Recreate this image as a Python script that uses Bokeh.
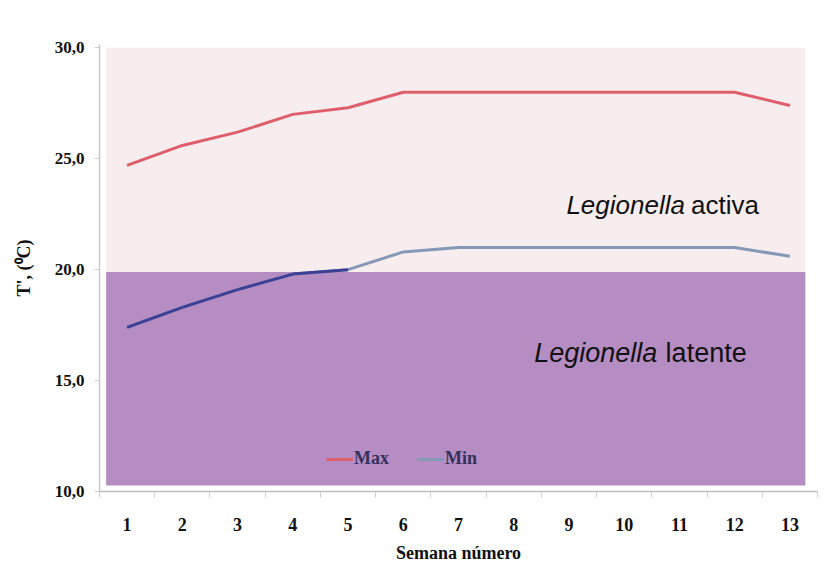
from bokeh.plotting import figure
from bokeh.models import (FixedTicker, BoxAnnotation, Label, Legend, LegendItem,
                          ColumnDataSource, Range1d)
from bokeh.embed import file_html
from bokeh.resources import INLINE

# ---- data ----
weeks = [1, 2, 3, 4, 5, 6, 7, 8, 9, 10, 11, 12, 13]
t_max = [24.7, 25.6, 26.2, 27.0, 27.3, 28.0, 28.0, 28.0, 28.0, 28.0, 28.0, 28.0, 27.4]
t_min = [17.4, 18.3, 19.1, 19.8, 20.0, 20.8, 21.0, 21.0, 21.0, 21.0, 21.0, 21.0, 20.6]
y_ticks = [10, 15, 20, 25, 30]
y_tick_labels = ["10,0", "15,0", "20,0", "25,0", "30,0"]
x_tick_labels = [str(w) for w in weeks]
threshold = 19.9  # limit between "latente" and "activa"

SERIF = "Liberation Serif"
SANS = "Liberation Sans"

p = figure(width=824, height=567, output_backend="svg", toolbar_location=None,
           x_range=Range1d(0.5, 13.5), y_range=Range1d(10, 30.15),
           min_border_left=99, min_border_right=7, min_border_top=44, min_border_bottom=76)
p.background_fill_color = "white"
p.border_fill_color = "white"
p.outline_line_color = None
p.xgrid.visible = False
p.ygrid.visible = False

# background bands
p.add_layout(BoxAnnotation(left=0.62, right=13.28, bottom=threshold, top=30.0,
                           fill_color="#f8edee", fill_alpha=1, line_color=None, level="underlay"))
p.add_layout(BoxAnnotation(left=0.62, right=13.28, bottom=10.27, top=threshold,
                           fill_color="#b68dc3", fill_alpha=1, line_color=None, level="underlay"))

# lines
r_max = p.line(weeks, t_max, line_color="#de5f6b", line_width=3)
r_min = p.line(weeks, t_min, line_color="#8598b6", line_width=3)
dark_idx = [i for i in range(len(weeks) - 1) if t_min[i] < threshold]
seg_dark = ColumnDataSource(dict(x0=[weeks[i] for i in dark_idx], y0=[t_min[i] for i in dark_idx],
                                 x1=[weeks[i + 1] for i in dark_idx], y1=[t_min[i + 1] for i in dark_idx]))
p.segment("x0", "y0", "x1", "y1", source=seg_dark, line_color="#3d3f95", line_width=3)

# texts
for xr, xl, yb, word, fs in [(11.10, 11.21, 22.9, "activa", "26px"),
                             (10.60, 10.75, 16.25, "latente", "27px")]:
    p.add_layout(Label(x=xr, y=yb, text="Legionella", text_font=SANS, text_font_style="italic",
                       text_font_size=fs, text_color="#111111", text_align="right",
                       text_baseline="alphabetic"))
    p.add_layout(Label(x=xl, y=yb, text=word, text_font=SANS,
                       text_font_size=fs, text_color="#111111", text_align="left",
                       text_baseline="alphabetic"))

# legend
legend = Legend(items=[LegendItem(label="Max", renderers=[r_max]),
                       LegendItem(label="Min", renderers=[r_min])],
                orientation="horizontal", location=(227, 22),
                background_fill_alpha=0, border_line_color=None,
                padding=0, margin=0, spacing=28, glyph_width=27, glyph_height=18,
                label_standoff=1, label_text_font=SERIF, label_text_font_style="bold",
                label_text_font_size="18px", label_text_color="#34305c")
p.add_layout(legend, "center")

# x axis
xa = p.xaxis[0]
xa.ticker = FixedTicker(ticks=weeks, minor_ticks=[w - 0.5 for w in weeks] + [weeks[-1] + 0.5])
xa.major_label_overrides = {w: lab for w, lab in zip(weeks, x_tick_labels)}
xa.axis_line_color = "#bdbdbd"
xa.axis_line_width = 1.5
xa.major_tick_out = 0
xa.major_tick_in = 0
xa.minor_tick_out = 6
xa.minor_tick_in = 0
xa.minor_tick_line_color = "#cfcfcf"
xa.major_label_standoff = 20
xa.major_label_text_font = SERIF
xa.major_label_text_font_style = "bold"
xa.major_label_text_font_size = "18px"
xa.major_label_text_color = "#111111"
xa.axis_label = "Semana número"
xa.axis_label_text_font = SERIF
xa.axis_label_text_font_style = "bold"
xa.axis_label_text_font_size = "18px"
xa.axis_label_text_color = "#111111"
xa.axis_label_standoff = 9

# y axis
ya = p.yaxis[0]
ya.ticker = FixedTicker(ticks=y_ticks, minor_ticks=[])
ya.major_label_overrides = {t: lab for t, lab in zip(y_ticks, y_tick_labels)}
ya.axis_line_color = "#c8c8c8"
ya.axis_line_width = 1.5
ya.major_tick_out = 5
ya.major_tick_in = 0
ya.major_tick_line_color = "#cfcfcf"
ya.minor_tick_out = 0
ya.minor_tick_in = 0
ya.major_label_standoff = 10
ya.major_label_text_font = SERIF
ya.major_label_text_font_style = "bold"
ya.major_label_text_font_size = "17px"
ya.major_label_text_color = "#111111"
ya.axis_label = "T', (⁰C)"
ya.axis_label_text_font = SERIF
ya.axis_label_text_font_style = "bold"
ya.axis_label_text_font_size = "18px"
ya.axis_label_text_color = "#111111"
ya.axis_label_standoff = 18

open("out.html", "w").write(file_html(p, INLINE))
